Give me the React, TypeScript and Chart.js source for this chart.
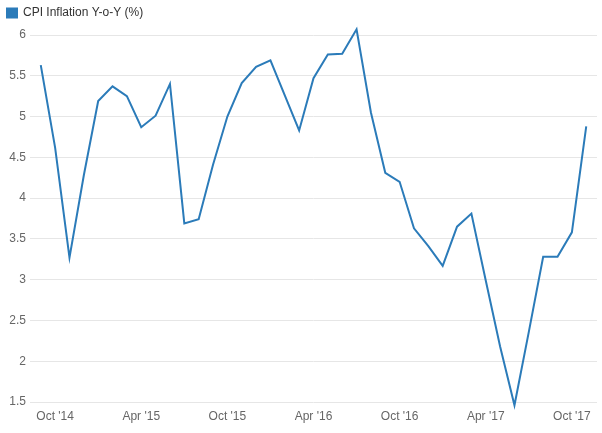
import React, { useEffect, useRef } from "react";
import { Chart, registerables } from "chart.js";

Chart.register(...registerables);

const seriesName = "CPI Inflation Y-o-Y (%)";

const months: string[] = [
  "Sep '14", "Oct '14", "Nov '14", "Dec '14",
  "Jan '15", "Feb '15", "Mar '15", "Apr '15", "May '15", "Jun '15",
  "Jul '15", "Aug '15", "Sep '15", "Oct '15", "Nov '15", "Dec '15",
  "Jan '16", "Feb '16", "Mar '16", "Apr '16", "May '16", "Jun '16",
  "Jul '16", "Aug '16", "Sep '16", "Oct '16", "Nov '16", "Dec '16",
  "Jan '17", "Feb '17", "Mar '17", "Apr '17", "May '17", "Jun '17",
  "Jul '17", "Aug '17", "Sep '17", "Oct '17", "Nov '17",
];

const cpi: number[] = [
  5.63, 4.62, 3.27, 4.28,
  5.19, 5.37, 5.25, 4.87, 5.01, 5.4,
  3.69, 3.74, 4.41, 5.0, 5.41, 5.61,
  5.69, 5.26, 4.83, 5.47, 5.76, 5.77,
  6.07, 5.05, 4.31, 4.2, 3.63, 3.41,
  3.17, 3.65, 3.81, 2.99, 2.18, 1.46,
  2.36, 3.28, 3.28, 3.58, 4.88,
];

const xTickLabels: string[] = [
  "Oct '14", "Apr '15", "Oct '15", "Apr '16", "Oct '16", "Apr '17", "Oct '17",
];

const yMin = 1.5;
const yMax = 6;
const yStep = 0.5;

const LINE_COLOR = "#2b7bb9";
const FONT = "'Liberation Sans', Arial, sans-serif";

export default function App() {
  const canvasRef = useRef<HTMLCanvasElement | null>(null);

  useEffect(() => {
    if (!canvasRef.current) return;
    const tickIdx = xTickLabels.map((l) => months.indexOf(l));
    const chart = new Chart(canvasRef.current, {
      type: "line",
      data: {
        datasets: [
          {
            label: seriesName,
            data: cpi.map((v, i) => ({ x: i, y: v })),
            borderColor: LINE_COLOR,
            backgroundColor: LINE_COLOR,
            borderWidth: 2,
            pointRadius: 0,
            pointHoverRadius: 0,
            tension: 0,
            fill: false,
            clip: false,
          } as any,
        ],
      },
      options: {
        responsive: false,
        animation: false,
        layout: { padding: { top: 0, left: 0, right: 5, bottom: 0 } },
        plugins: {
          tooltip: { enabled: false },
          title: {
            display: true,
            text: "",
            position: "top",
            weight: 500,
            font: { size: 1, lineHeight: 1 },
            padding: { top: 0, bottom: 5 },
          } as any,
          legend: {
            display: true,
            position: "top",
            align: "start",
            labels: {
              boxWidth: 10,
              boxHeight: 9,
              padding: 7,
              color: "#333333",
              font: { family: FONT, size: 12 },
            },
          },
        },
        scales: {
          x: {
            type: "linear",
            min: -0.75,
            max: months.length - 1 + 0.75,
            grid: { display: false, drawTicks: false },
            border: { display: false },
            afterBuildTicks: (scale: any) => {
              scale.ticks = tickIdx.map((v) => ({ value: v }));
            },
            afterFit: (scale: any) => {
              scale.height = 31;
            },
            ticks: {
              autoSkip: false,
              maxRotation: 0,
              padding: 7,
              color: "#666666",
              font: { family: FONT, size: 12 },
              callback: (v: any) => months[Number(v)] ?? "",
            },
          },
          y: {
            type: "linear",
            min: yMin,
            max: yMax,
            grid: { color: "#e6e6e6", lineWidth: 1, drawTicks: false },
            border: { display: false },
            afterFit: (scale: any) => {
              scale.width = 30;
            },
            ticks: {
              stepSize: yStep,
              padding: 4,
              color: "#666666",
              font: { family: FONT, size: 12 },
              callback: (v: any) => String(Number(Number(v).toFixed(2))),
            },
          },
        },
      },
    });
    return () => chart.destroy();
  }, []);

  return (
    <div style={{ position: "absolute", left: 0, top: 0, width: 602, height: 433, background: "#fff" }}>
      <canvas ref={canvasRef} width={602} height={433} />
    </div>
  );
}
